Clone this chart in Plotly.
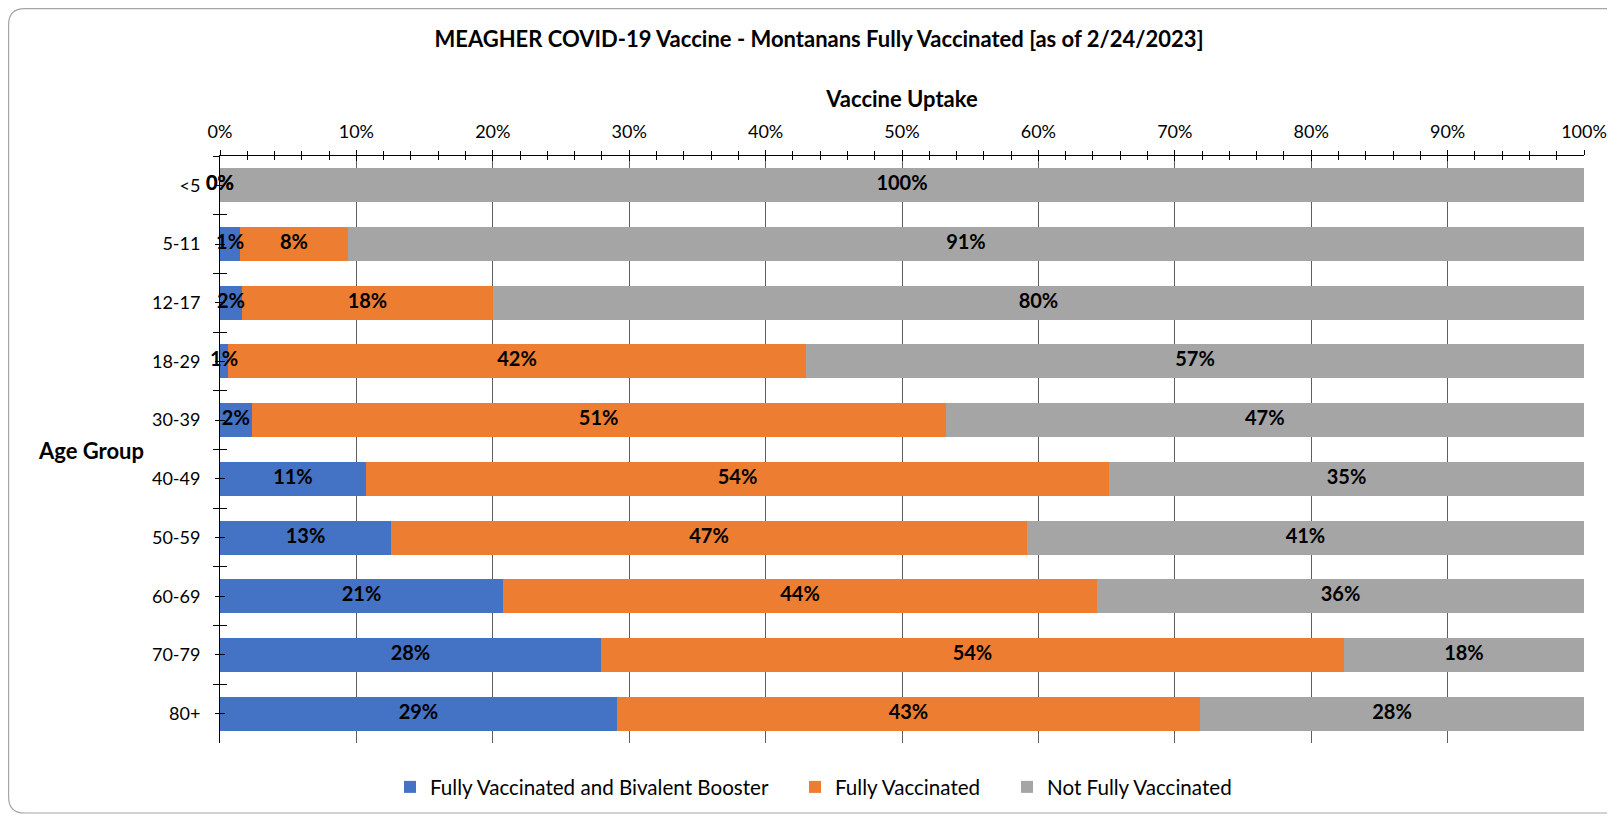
import plotly.graph_objects as go

# ---------------- data ----------------
age_groups = ["<5", "5-11", "12-17", "18-29", "30-39", "40-49", "50-59", "60-69", "70-79", "80+"]
booster = [0.0, 0.0147, 0.0161, 0.0059, 0.0232, 0.1070, 0.1254, 0.2075, 0.2793, 0.2910]
fully = [0.0, 0.0791, 0.1840, 0.4237, 0.5088, 0.5448, 0.4662, 0.4355, 0.5447, 0.4275]
not_fully = [1.0, 0.9062, 0.7999, 0.5704, 0.4680, 0.3482, 0.4084, 0.3570, 0.1760, 0.2815]
series_names = ["Fully Vaccinated and Bivalent Booster", "Fully Vaccinated", "Not Fully Vaccinated"]
series_colors = ["#4472C4", "#ED7D31", "#A5A5A5"]
title_text = "MEAGHER COVID-19 Vaccine - Montanans Fully Vaccinated [as of 2/24/2023]"

# ---------------- layout geometry ----------------
# the page body has an 8px default margin, so the figure is offset by 8px
OFF = 8
W, H = 1615 - OFF, 817 - OFF
L, T = 220 - OFF, 156 - OFF
PW, PH = 1364, 587
R, B = W - L - PW, H - T - PH
FONT = "Lato"
legend_ids = ["legend", "legend2", "legend3"]
legend_text_left = [426, 831, 1043]  # page px where each legend entry's text starts


def px_x(p):  # page pixel -> paper x
    return (p - OFF - L) / PW


def px_y(p):  # page pixel -> paper y
    return 1 - (p - OFF - T) / PH


fig = go.Figure()
series = [booster, fully, not_fully]
for name, vals, col, lg in zip(series_names, series, series_colors, legend_ids):
    fig.add_trace(go.Bar(
        y=age_groups, x=vals, name=name, orientation="h",
        marker=dict(color=col, line=dict(width=0)),
        hoverinfo="skip", legend=lg,
    ))

# data labels, centred in each segment
lab_x, lab_y, lab_t = [], [], []
for i, g in enumerate(age_groups):
    start = 0.0
    for vals in series:
        v = vals[i]
        lab_x.append(start + v / 2)
        lab_y.append(g)
        lab_t.append(f"{round(v * 100):.0f}%")
        start += v
fig.add_trace(go.Scatter(
    x=lab_x, y=lab_y, text=lab_t, mode="text", xaxis="x2", yaxis="y",
    textfont=dict(family=FONT, size=20, color="black", weight="bold"),
    textposition="middle center", showlegend=False, hoverinfo="skip",
    cliponaxis=False,
))

# invisible helper traces for the extra (tick-only) y axes
for ax in ["y2", "y3", "y4"]:
    fig.add_trace(go.Scatter(
        x=[0] * len(age_groups), y=age_groups, mode="markers",
        marker=dict(opacity=0), xaxis="x", yaxis=ax,
        showlegend=False, hoverinfo="skip",
    ))

cat_common = dict(type="category", categoryorder="array", categoryarray=age_groups,
                  range=[len(age_groups) - 0.5, -0.5])

legends = {}
for lg, tx in zip(legend_ids, legend_text_left):
    legends[lg] = dict(orientation="h", x=px_x(tx - 36), xanchor="left", y=px_y(787), yanchor="middle",
                       font=dict(family=FONT, size=20.6, color="black"),
                       itemwidth=30, bgcolor="rgba(0,0,0,0)", borderwidth=0)

fig.update_layout(
    width=W, height=H,
    margin=dict(l=L, r=R, t=T, b=B, autoexpand=False),
    paper_bgcolor="white", plot_bgcolor="white",
    barmode="stack", bargap=0.42,
    font=dict(family=FONT, color="black"),
    title=dict(text=title_text, x=(819 - OFF) / W, xanchor="center", y=1 - (39 - OFF) / H, yanchor="middle",
               font=dict(family=FONT, size=22, color="black", weight="bold")),
    xaxis=dict(
        side="top", range=[0, 1], dtick=0.1, tickformat=".0%",
        ticks="outside", ticklen=5, tickcolor="black", tickwidth=1,
        minor=dict(dtick=0.02, ticks="outside", ticklen=4, tickcolor="black", showgrid=False),
        showgrid=True, gridcolor="#5f5f5f", gridwidth=1,
        showline=True, linecolor="black", linewidth=1, zeroline=False,
        tickfont=dict(family=FONT, size=18, color="black"), ticklabelstandoff=5,
        title=dict(text="Vaccine Uptake", standoff=6,
                   font=dict(family=FONT, size=22, color="black", weight="bold")),
        fixedrange=True,
    ),
    xaxis2=dict(
        overlaying="x", side="top", anchor="y", range=[0, 1], dtick=0.1,
        ticks="inside", ticklen=5, tickcolor="black", tickwidth=1,
        minor=dict(dtick=0.02, ticks="inside", ticklen=4, tickcolor="black", showgrid=False),
        showticklabels=False, showgrid=False, showline=False, zeroline=False,
    ),
    yaxis=dict(
        **cat_common, ticks="outside", ticklen=4, tickcolor="black", tickwidth=1,
        showline=True, linecolor="black", linewidth=1, showgrid=False, zeroline=False,
        tickfont=dict(family=FONT, size=18, color="black"), ticklabelstandoff=11,
    ),
    yaxis2=dict(**cat_common, overlaying="y", anchor="x", ticks="inside", ticklen=5,
                tickcolor="black", showticklabels=False, showgrid=False, showline=False, zeroline=False),
    yaxis3=dict(**cat_common, overlaying="y", anchor="x", tickson="boundaries", ticks="outside", ticklen=6,
                tickcolor="black", showticklabels=False, showgrid=False, showline=False, zeroline=False),
    yaxis4=dict(**cat_common, overlaying="y", anchor="x", tickson="boundaries", ticks="inside", ticklen=7,
                tickcolor="black", showticklabels=False, showgrid=False, showline=False, zeroline=False),
    showlegend=True,
    **legends,
)

fig.add_annotation(text="<b>Age Group</b>", xref="paper", yref="paper",
                   x=px_x(91), y=px_y(451), xanchor="center", yanchor="middle",
                   showarrow=False, font=dict(family=FONT, size=22, color="black"))

# rounded chart border
r = 16
x0, x1, y0, y1 = 8.6, 1650, 8.6, 813
path = (f"M {px_x(x0)},{px_y(y0 + r)} Q {px_x(x0)},{px_y(y0)} {px_x(x0 + r)},{px_y(y0)} "
        f"L {px_x(x1)},{px_y(y0)} L {px_x(x1)},{px_y(y1)} L {px_x(x0 + r)},{px_y(y1)} "
        f"Q {px_x(x0)},{px_y(y1)} {px_x(x0)},{px_y(y1 - r)} Z")
fig.add_shape(type="path", path=path, xref="paper", yref="paper",
              line=dict(color="#A6A6A6", width=1.2), fillcolor="rgba(0,0,0,0)", layer="below")

fig.write_html("out.html")
